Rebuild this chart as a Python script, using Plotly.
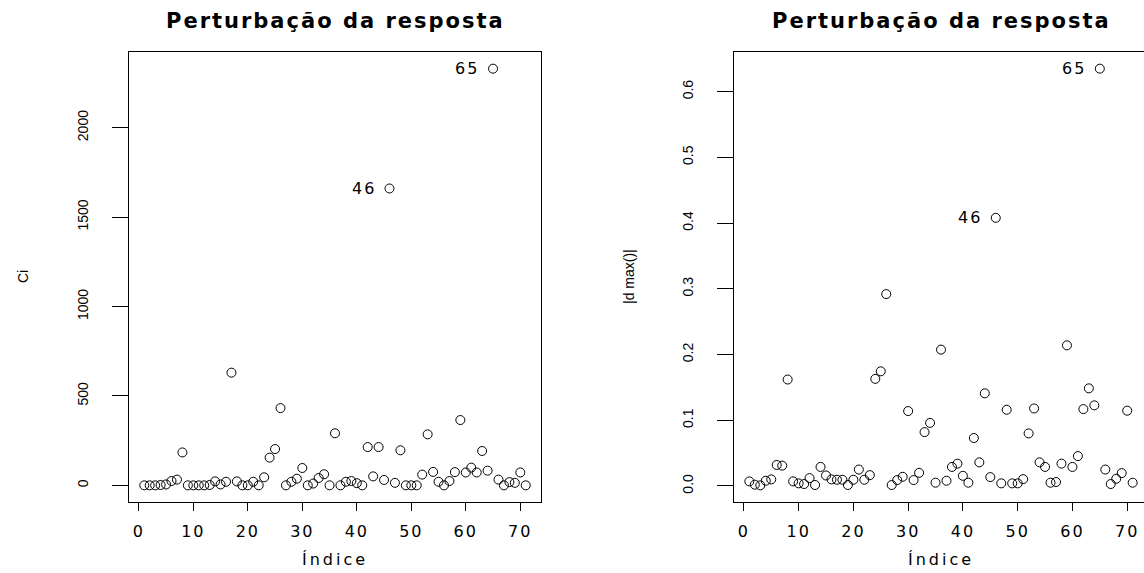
import plotly.graph_objects as go

# ---- data ----
indice = list(range(1, 72))
ci = [0, 0, 0, 2, 5, 24, 32, 184, 0, 0,
      0, 0, 2, 22, 5, 20, 630, 22, 0, 0,
      20, 0, 45, 155, 203, 432, 0, 20, 37, 97,
      0, 10, 41, 62, 0, 291, 0, 20, 24, 12,
      0, 214, 50, 214, 30, 1660, 14, 196, 0, 0,
      0, 60, 285, 75, 20, 0, 24, 74, 365, 72,
      99, 72, 192, 82, 2330, 32, 0, 18, 14, 72, 0]
dmax = [0.007, 0.002, 0.001, 0.008, 0.010, 0.032, 0.031, 0.162, 0.007, 0.004,
        0.003, 0.012, 0.0015, 0.029, 0.016, 0.010, 0.0095, 0.0095, 0.0015, 0.0095,
        0.025, 0.0095, 0.0165, 0.163, 0.1745, 0.292, 0.0015, 0.009, 0.014, 0.114,
        0.009, 0.020, 0.082, 0.096, 0.005, 0.2075, 0.008, 0.029, 0.034, 0.0155,
        0.005, 0.073, 0.036, 0.141, 0.0135, 0.408, 0.004, 0.116, 0.004, 0.004,
        0.0104, 0.080, 0.118, 0.036, 0.029, 0.005, 0.006, 0.034, 0.214, 0.029,
        0.0455, 0.117, 0.1486, 0.1227, 0.635, 0.025, 0.003, 0.011, 0.0196, 0.1146, 0.005]
destaque = [46, 65]
x_ticks = [0, 10, 20, 30, 40, 50, 60, 70]
ci_ticks = [0, 500, 1000, 1500, 2000]
dmax_ticks = [0.0, 0.1, 0.2, 0.3, 0.4, 0.5, 0.6]
titulo = "Perturbação da resposta"
xlab = "Índice"
ylab_esq = "Ci"
ylab_dir = "|d max()|"

W, H = 1144, 573


def r_range(v):
    lo, hi = min(v), max(v)
    d = (hi - lo) * 0.04
    return [lo - d, hi + d]


def wide(s, sp):
    return "<span style='letter-spacing:%dpx'>%s</span>" % (sp, s)


xr = r_range(indice)
# right panel is cut at the image edge
xr2 = [xr[0], xr[0] + (xr[1] - xr[0]) * (W - 734) / (1148 - 734)]

ydom = [(H - 502) / H, (H - 52) / H]

fig = go.Figure()
mk = dict(symbol="circle-open", size=9, color="black", line=dict(width=1, color="black"))
fig.add_trace(go.Scatter(x=indice, y=ci, mode="markers", marker=mk, xaxis="x", yaxis="y",
                         showlegend=False, hoverinfo="skip"))
fig.add_trace(go.Scatter(x=indice, y=dmax, mode="markers", marker=mk, xaxis="x2", yaxis="y2",
                         showlegend=False, hoverinfo="skip"))

tick_x_font = dict(family="DejaVu Sans", size=16, color="black")
tick_y_font = dict(family="Liberation Sans", size=14, color="black")
common_x = dict(showgrid=False, zeroline=False, showline=True, linecolor="black", linewidth=1,
                ticks="outside", ticklen=8, tickcolor="black", tickwidth=1,
                tickmode="array", tickvals=x_ticks,
                ticktext=[wide(str(v), 2) for v in x_ticks],
                tickfont=tick_x_font, ticklabelstandoff=7)
common_y = dict(showgrid=False, zeroline=False, showline=True, linecolor="black", linewidth=1,
                ticks="outside", ticklen=16, tickcolor="black", tickwidth=1,
                tickangle=-90, tickfont=tick_y_font, ticklabelstandoff=18)

fig.update_layout(
    width=W, height=H,
    margin=dict(l=0, r=0, t=0, b=0),
    paper_bgcolor="white", plot_bgcolor="white",
    xaxis=dict(domain=[129 / W, 541 / W], range=xr, mirror=True, anchor="y", **common_x),
    yaxis=dict(domain=ydom, range=r_range(ci), mirror=True, anchor="x",
               tickvals=ci_ticks, **common_y),
    xaxis2=dict(domain=[734 / W, 1.0], range=xr2, mirror=True, anchor="y2", **common_x),
    yaxis2=dict(domain=ydom, range=r_range(dmax), mirror=False, anchor="x2",
                tickvals=dmax_ticks, tickformat=".1f", **common_y),
)

ann = []
title_font = dict(family="DejaVu Sans", size=21, color="black", weight="bold")
lab_font = dict(family="DejaVu Sans", size=16, color="black")
for cx in [(129 + 541) / 2, (734 + 1148) / 2]:
    ann.append(dict(text=wide(titulo, 2), x=cx / W, y=(H - 21) / H, xref="paper", yref="paper",
                    showarrow=False, xanchor="center", yanchor="middle", font=title_font))
    ann.append(dict(text=wide(xlab, 3), x=cx / W, y=(H - 559) / H, xref="paper", yref="paper",
                    showarrow=False, xanchor="center", yanchor="middle", font=lab_font))
ann.append(dict(text=ylab_esq, x=23 / W, y=(H - 277) / H, xref="paper", yref="paper",
                showarrow=False, textangle=-90, xanchor="center", yanchor="middle",
                font=tick_y_font))
ann.append(dict(text=ylab_dir, x=629 / W, y=(H - 277) / H, xref="paper", yref="paper",
                showarrow=False, textangle=-90, xanchor="center", yanchor="middle",
                font=tick_y_font))
for i in destaque:
    ann.append(dict(text=wide(str(i), 2), x=i, y=ci[i - 1], xref="x", yref="y",
                    showarrow=False, xanchor="right", yanchor="middle", xshift=-12,
                    font=lab_font))
    ann.append(dict(text=wide(str(i), 2), x=i, y=dmax[i - 1], xref="x2", yref="y2",
                    showarrow=False, xanchor="right", yanchor="middle", xshift=-12,
                    font=lab_font))
fig.update_layout(annotations=ann)

fig.write_html("out.html", config={"displayModeBar": False},
               post_script="document.body.style.margin='0px';")
